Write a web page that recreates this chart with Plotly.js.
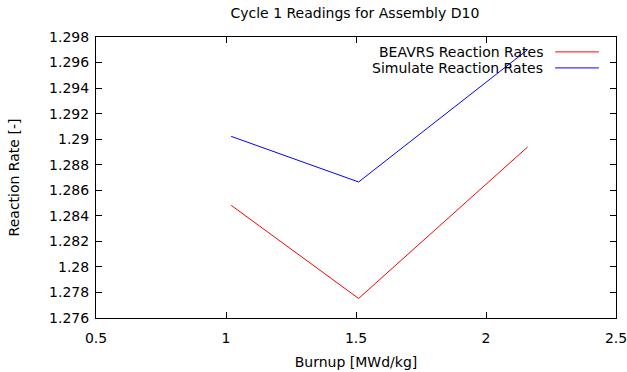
<!DOCTYPE html>
<html>
<head>
<meta charset="utf-8">
<script src="https://cdn.plot.ly/plotly-3.0.1.min.js"></script>
<style>html,body{margin:0;padding:0;background:#fff;}#chart{width:627px;height:372px;}</style>
</head>
<body>
<div id="chart"></div>
<script>
const burnup = [1.02, 1.51, 2.16];
const beavrs = [1.28482, 1.27753, 1.28939];
const simulate = [1.29022, 1.28665, 1.29700];
const seriesNames = ["BEAVRS Reaction Rates", "Simulate Reaction Rates"];
const seriesColors = ["#ff0000", "#0000ff"];
const xTicks = [0.5, 1, 1.5, 2, 2.5];
const xTickText = ["0.5", "1", "1.5", "2", "2.5"];
const yTicks = [1.276, 1.278, 1.28, 1.282, 1.284, 1.286, 1.288, 1.29, 1.292, 1.294, 1.296, 1.298];
const yTickText = ["1.276", "1.278", "1.28", "1.282", "1.284", "1.286", "1.288", "1.29", "1.292", "1.294", "1.296", "1.298"];

const font = {family: "DejaVu Sans", size: 14, color: "#000"};
const traces = [beavrs, simulate].map((ys, i) => ({
  x: burnup, y: ys, type: "scatter", mode: "lines", name: seriesNames[i],
  line: {color: seriesColors[i], width: 1}, showlegend: false
}));

// legend gnuplot style: right-aligned text, line sample to the right
const legendRows = [0.947, 0.890];
const annotations = seriesNames.map((n, i) => ({
  xref: "paper", yref: "paper", x: 0.864, y: legendRows[i], xanchor: "right", yanchor: "middle",
  text: n, showarrow: false, font: font
}));
const shapes = seriesNames.map((n, i) => ({
  type: "line", xref: "paper", yref: "paper", x0: 0.883, x1: 0.967, y0: legendRows[i], y1: legendRows[i],
  line: {color: seriesColors[i], width: 1}
}));

const layout = {
  width: 627, height: 372,
  margin: {l: 96, r: 11, t: 37, b: 54},
  paper_bgcolor: "#fff", plot_bgcolor: "#fff",
  font: font,
  title: {text: "Cycle 1 Readings for Assembly D10", font: font, x: 0.566, xanchor: "center", y: 0.965, yanchor: "middle"},
  xaxis: {
    range: [0.5, 2.5], tickvals: xTicks, ticktext: xTickText, ticks: "inside", ticklen: 6, tickcolor: "#000",
    showline: true, linecolor: "#000", linewidth: 1, mirror: "ticks", showgrid: false, zeroline: false,
    ticklabeloverflow: "allow", ticklabelstandoff: 7,
    title: {text: "Burnup [MWd/kg]", font: font, standoff: 12}
  },
  yaxis: {
    range: [1.276, 1.298], tickvals: yTicks, ticktext: yTickText, ticks: "inside", ticklen: 6, tickcolor: "#000",
    showline: true, linecolor: "#000", linewidth: 1, mirror: "ticks", showgrid: false, zeroline: false,
    ticklabeloverflow: "allow", ticklabelstandoff: 3,
    title: {text: "Reaction Rate [-]", font: font, standoff: 26}
  },
  annotations: annotations,
  shapes: shapes
};
Plotly.newPlot("chart", traces, layout, {displayModeBar: false, staticPlot: true});
</script>
</body>
</html>
